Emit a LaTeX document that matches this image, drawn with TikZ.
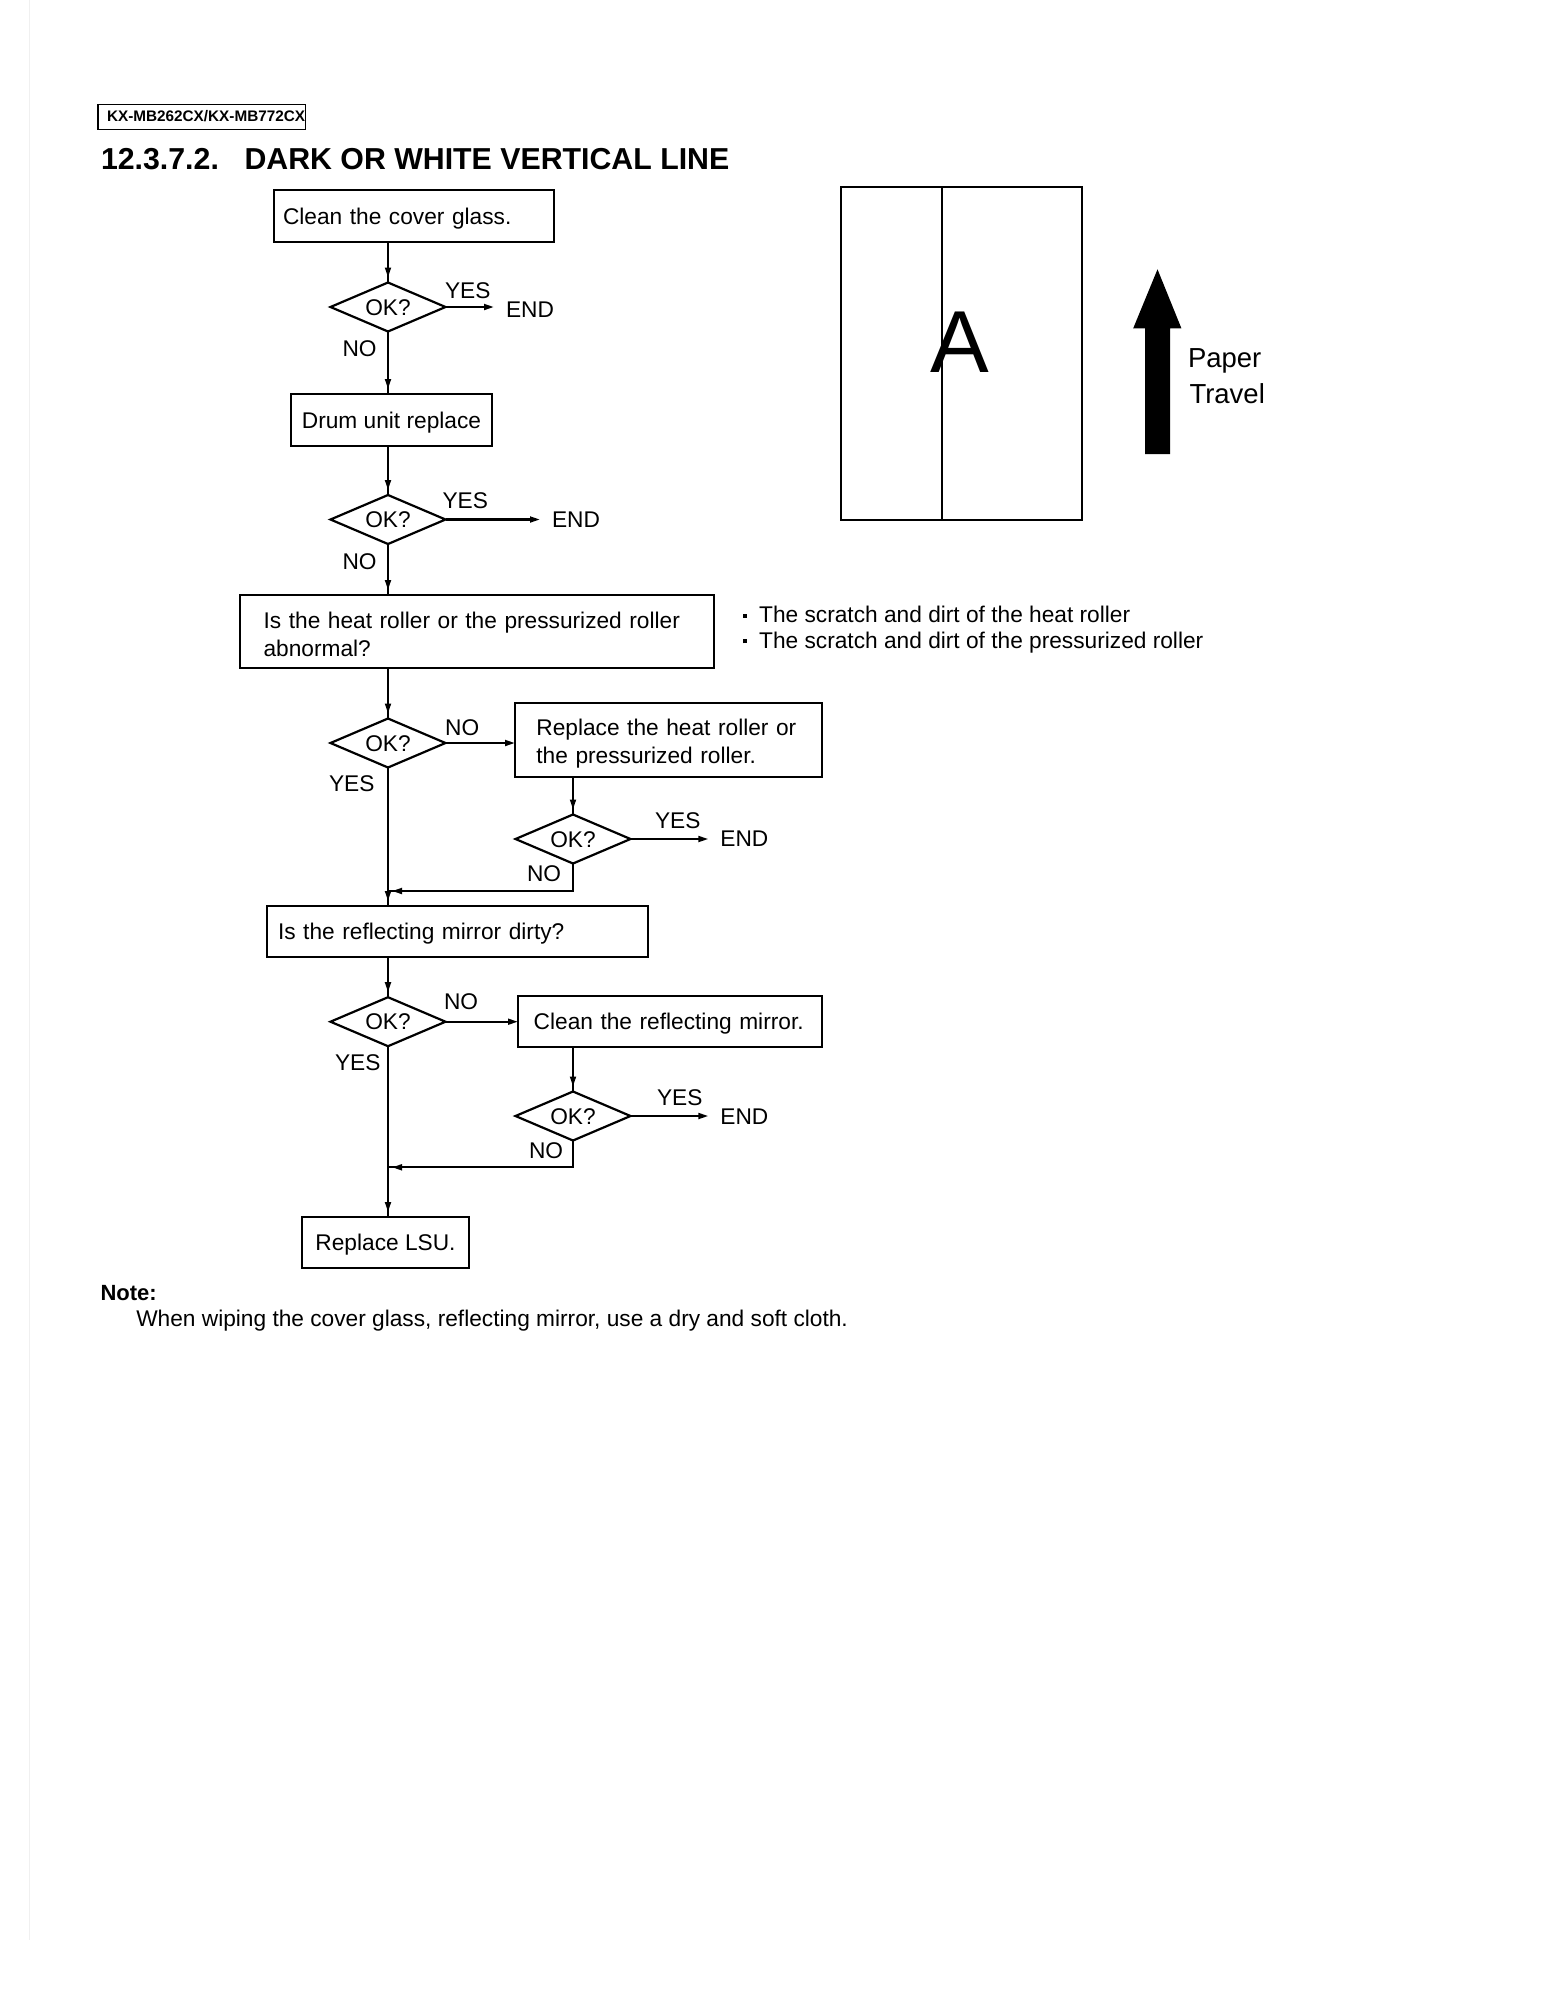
\documentclass[tikz,border=0pt]{standalone}
\usepackage{fontspec}
\setmainfont{Liberation Sans}
\usetikzlibrary{shapes.geometric,arrows.meta,decorations.markings,calc}
\newcommand{\tstrut}[1]{\rule{0pt}{#1}}
\newcommand{\bulletdot}{\makebox[8.6pt][l]{\hspace{0.5pt}\raisebox{2.5pt}{\rule{2pt}{2pt}}}}
\begin{document}
\begin{tikzpicture}[x=0.5pt,y=-0.5pt,
  every node/.style={inner sep=0pt, outer sep=0pt},
  fc/.style={font=\fontsize{11.35pt}{13.6pt}\selectfont},
  box/.style={draw, line width=1.1pt, fc, align=left, inner ysep=0pt},
  sbox/.style={box, text height=8.15pt, text depth=0pt},
  dia/.style={draw, diamond, aspect=2.35, line width=1.1pt, fc, minimum width=57.5pt, minimum height=24.5pt, text height=8.15pt, text depth=0pt, inner sep=0pt},
  lbl/.style={fc, anchor=base west},
  endn/.style={fc, anchor=west, inner xsep=6pt, text height=8.15pt, text depth=0pt},
  conn/.style={line width=1.1pt},
  arrm/.style={conn, postaction={decorate}, decoration={markings, mark=at position #1 with {\arrow{Triangle[length=5pt,width=2.9pt]}}}},
  varr/.style={arrm=-2.5pt},
  jarr/.style={arrm=-2pt},
  harr/.style={conn, -{Triangle[length=5pt,width=2.9pt]}},
]
\useasboundingbox (0,0) rectangle (1556,2014);
\fill[white] (0,0) rectangle (1556,2014);
\draw[gray!12, line width=0.6pt] (29.5,0) -- (29.5,1940);

% header
\node (hdr) [draw, line width=0.75pt, minimum width=103.75pt, minimum height=12.5pt, anchor=north west] at (97.9,104.3) {};
\node (hdrtext) [anchor=base west, font=\bfseries\fontsize{7.65pt}{9pt}\selectfont] at (107,121.8) {KX-MB262CX/KX-MB772CX};
\node (title) [anchor=base west, font=\bfseries\fontsize{15.15pt}{18pt}\selectfont] at (101,169) {12.3.7.2.\hspace{12.8pt}DARK OR WHITE VERTICAL LINE};

% flowchart boxes
\node (b1) [sbox, inner xsep=4.5pt, text width=131pt, minimum height=26pt] at (414,216) {Clean the cover glass.};
\node (b2) [sbox, minimum width=100.5pt, minimum height=26pt] at (391.5,420) {Drum unit replace};
\node (b3) [box, inner xsep=11.8pt, text width=213.4pt, minimum height=36.5pt] at (477,631.5) {\tstrut{11.1pt}Is the heat roller or the pressurized roller\\abnormal?};
\node (b4) [box, inner xsep=10.7pt, text width=132.1pt, minimum height=37pt] at (668.5,740) {\tstrut{11.9pt}Replace the heat roller or\\the pressurized roller.};
\node (b5) [sbox, inner xsep=5.5pt, text width=179.5pt, minimum height=25.5pt] at (457.5,931.5) {Is the reflecting mirror dirty?};
\node (b6) [sbox, inner xsep=7.85pt, text width=136.3pt, minimum height=25.5pt] at (670,1021.5) {Clean the reflecting mirror.};
\node (b7) [sbox, minimum width=83.5pt, minimum height=25.5pt] at (385.5,1242.5) {Replace LSU.};

% diamonds
\node (d1) [dia] at (388,307) {OK?};
\node (d2) [dia] at (388,519.5) {OK?};
\node (d3) [dia] at (388,743) {OK?};
\node (d4) [dia] at (573,839) {OK?};
\node (d5) [dia] at (388,1021.7) {OK?};
\node (d6) [dia] at (573,1116) {OK?};

% END nodes
\node (e1) [endn] at (494,309.5) {END};
\node (e2) [endn] at (540,519.5) {END};
\node (e4) [endn] at (708.4,838.5) {END};
\node (e6) [endn] at (708.4,1116.8) {END};

% labels
\node (y1) [lbl] at (445,298.3) {YES};
\node (y2) [lbl] at (442.5,508.3) {YES};
\node (y3) [lbl] at (329,791.7) {YES};
\node (y4) [lbl] at (655,828.3) {YES};
\node (y5) [lbl] at (335,1070) {YES};
\node (y6) [lbl] at (657,1105) {YES};
\node (n1) [lbl] at (342.5,356.7) {NO};
\node (n2) [lbl] at (342.5,569.5) {NO};
\node (n3) [lbl] at (445.2,735) {NO};
\node (n4) [lbl] at (527,881.7) {NO};
\node (n5) [lbl] at (444,1009.3) {NO};
\node (n6) [lbl] at (529,1158.3) {NO};

\coordinate (j1) at (388,891);
\coordinate (j2) at (388,1167.3);

% connectors
\draw[varr] (d1 |- b1.south) -- (d1.north);
\draw[harr] (d1.east) -- (d1.east -| e1.west);
\draw[varr] (d1.south) -- (d1 |- b2.north);
\draw[varr] (d2 |- b2.south) -- (d2.north);
\draw[harr] (d2.east) -- (d2.east -| e2.west);
\draw[varr] (d2.south) -- (d2 |- b3.north);
\draw[varr] (d3 |- b3.south) -- (d3.north);
\draw[harr] (d3.east) -- (d3.east -| b4.west);
\draw[varr] (d4 |- b4.south) -- (d4.north);
\draw[harr] (d4.east) -- (d4.east -| e4.west);
\draw[jarr] (d4.south) |- (j1);
\draw[varr] (d3.south) -- (d3 |- b5.north);
\draw[varr] (d5 |- b5.south) -- (d5.north);
\draw[harr] (d5.east) -- (d5.east -| b6.west);
\draw[varr] (d6 |- b6.south) -- (d6.north);
\draw[harr] (d6.east) -- (d6.east -| e6.west);
\draw[jarr] (d6.south) |- (j2);
\draw[varr] (d5.south) -- (d5 |- b7.north);

% notes beside
\node (note1) [lbl] at (742,622.7) {\bulletdot The scratch and dirt of the heat roller};
\node (note2) [lbl] at (742,648.3) {\bulletdot The scratch and dirt of the pressurized roller};

% paper sketch
\node (paper) [draw, line width=1pt, minimum width=120.2pt, minimum height=166.35pt] at (961.6,353.7) {};
\draw[line width=1pt] (942,187.3) -- (942,520);
\node (letterA) [anchor=base west, font=\fontsize{44pt}{44pt}\selectfont] at (930,372.7) {A};
\fill (1145,454) -- (1145,328.3) -- (1133.2,328.3) -- (1157.5,269.3) -- (1181.4,328.3) -- (1170,328.3) -- (1170,454) -- cycle;
\node (paperlbl) [anchor=base west, font=\fontsize{13.75pt}{18pt}\selectfont] at (1188,367.3) {Paper};
\node (travellbl) [anchor=base west, font=\fontsize{13.75pt}{18pt}\selectfont] at (1189.5,403.3) {Travel};

% note
\node (notehead) [anchor=base west, font=\bfseries\fontsize{11pt}{13pt}\selectfont] at (100.5,1300.7) {Note:};
\node (notetext) [lbl] at (136.3,1326) {When wiping the cover glass, reflecting mirror, use a dry and soft cloth.};
\end{tikzpicture}
\end{document}
